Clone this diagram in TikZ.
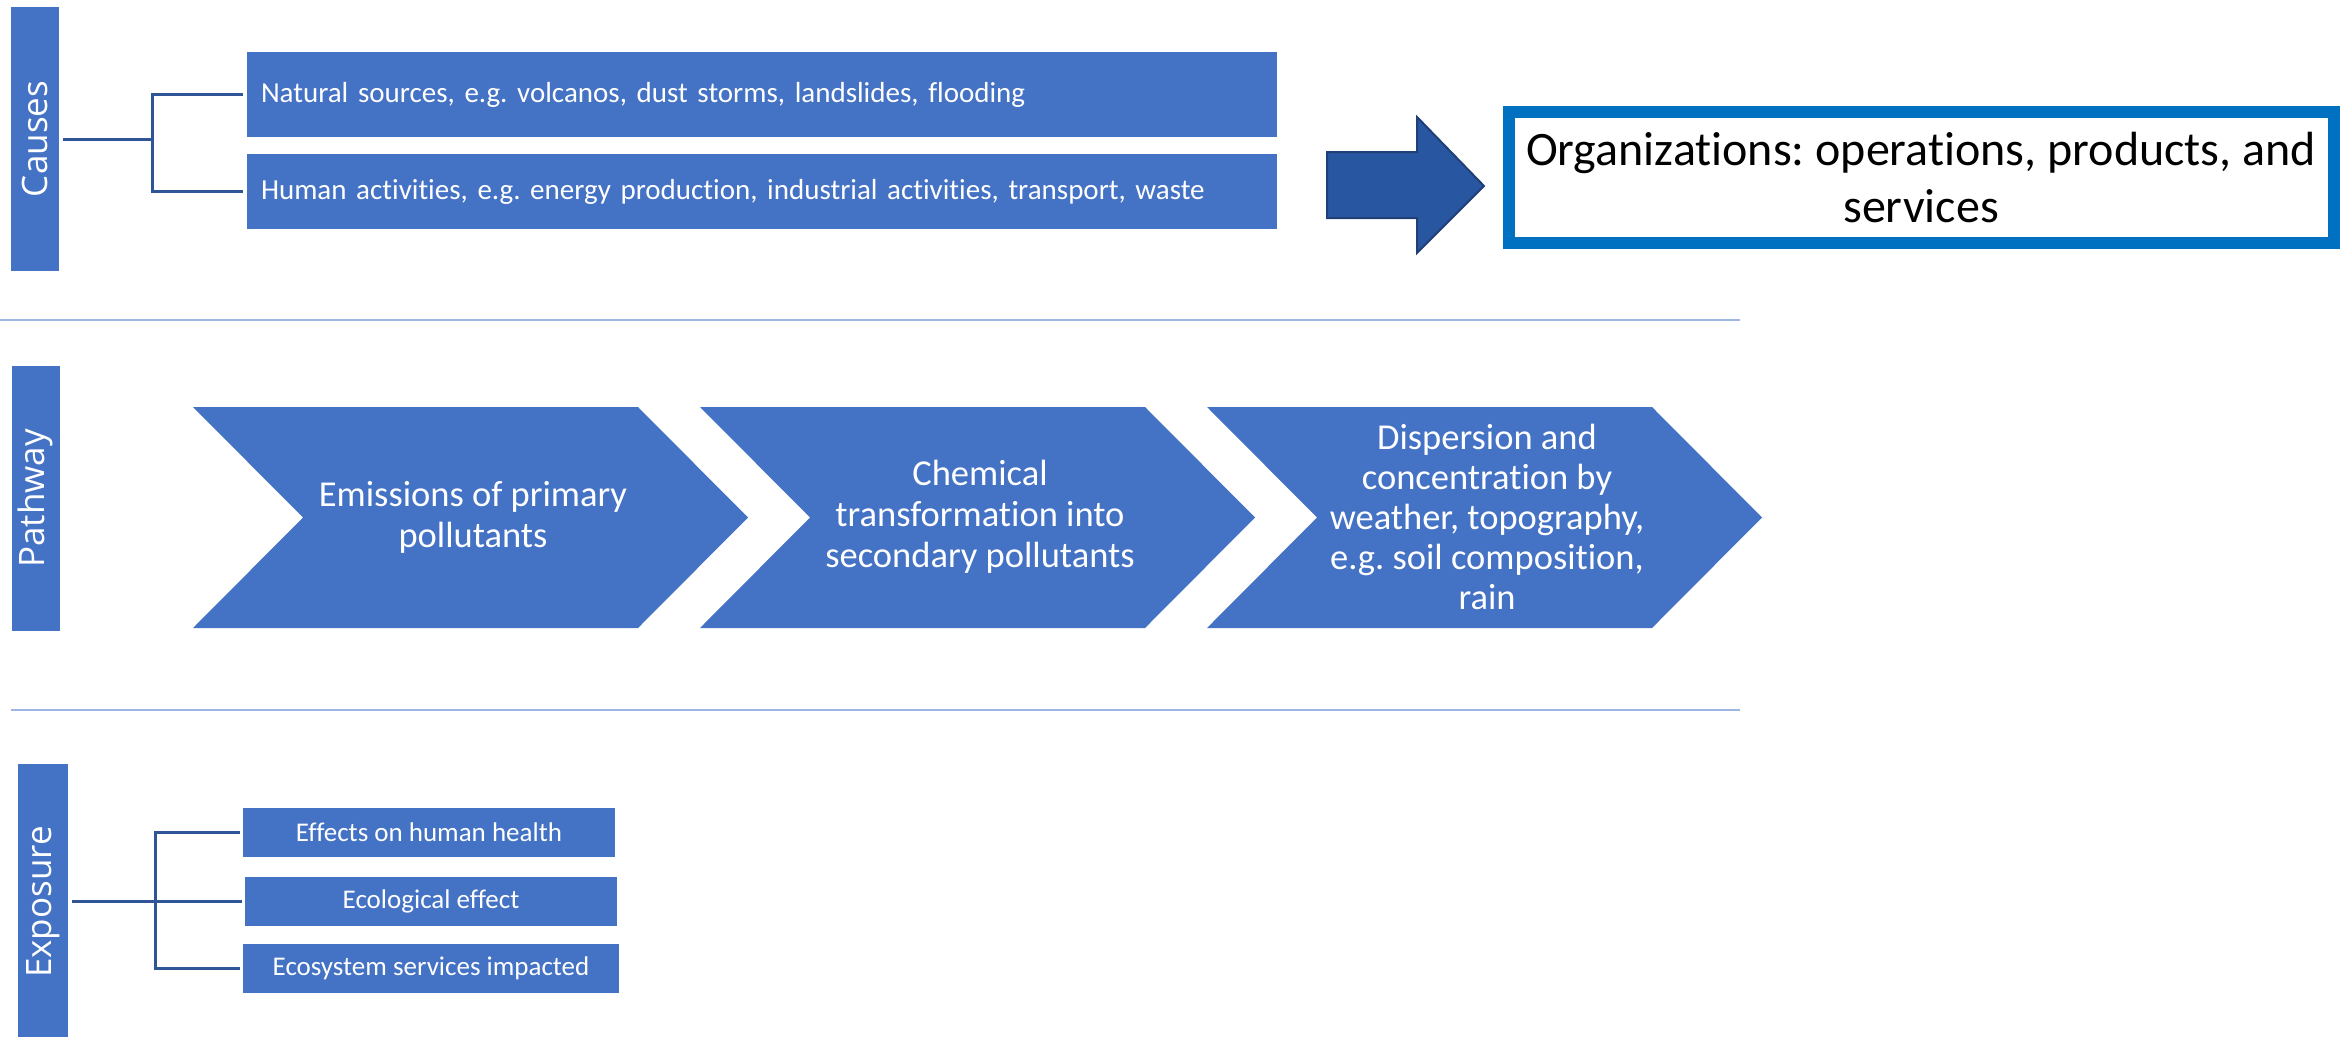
\documentclass[tikz,border=0pt]{standalone}
\usepackage{fontspec}
\setmainfont{Carlito}[Ligatures=NoCommon]
\newfontfamily\barfont{Open Sans}
\usetikzlibrary{positioning}
\frenchspacing

\definecolor{boxblue}{HTML}{4472C4}
\definecolor{linkblue}{HTML}{2F5597}
\definecolor{arrowblue}{HTML}{2856A0}
\definecolor{arrowedge}{HTML}{1F3F77}
\definecolor{orgblue}{HTML}{0070C0}
\definecolor{rulecolor}{HTML}{9DB6E4}

\tikzset{
  bar/.style={fill=boxblue, text=white, inner sep=0pt, minimum width=48,
    font=\barfont\fontsize{35}{40}\selectfont},
  item/.style={fill=boxblue, text=white, inner sep=0pt,
    font=\fontsize{29}{34}\selectfont},
  effect/.style={fill=boxblue, text=white, inner sep=0pt, minimum height=49,
    font=\fontsize{27}{32}\selectfont},
  steptext/.style={text=white, align=center,
    font=\fontsize{36.5}{41}\selectfont},
  link/.style={draw=linkblue, line width=3},
  sep/.style={draw=rulecolor, line width=2.5},
}

\begin{document}
\begin{tikzpicture}[x=1pt, y=-1pt]

\useasboundingbox (0,0) rectangle (2341,1036);

% Causes
\node [bar, minimum height=264] (causes) at (34.5,139) {\rotatebox{90}{Causes}};

\node [item, minimum width=1030, minimum height=85, text width=1002, align=left] (natural) at (762,94.5)
  {Natural sources, e.g. volcanos, dust storms, landslides, flooding};
\node [item, minimum width=1030, minimum height=75, text width=1002, align=left] (human) at (762,191.5)
  {Human activities, e.g. energy production, industrial activities, transport, waste};

\coordinate (cfork) at (152,139);
\draw [link] ([xshift=4]causes.east) -- (cfork);
\draw [link] ([xshift=-4]natural.west) -| (cfork) |- ([xshift=-4]human.west);

\draw [fill=arrowblue, draw=arrowedge, line width=2] (1327,152) -- (1417,152) -- (1417,117) -- (1484,186)
  -- (1417,253) -- (1417,218) -- (1327,218) -- cycle;

\node [draw=orgblue, line width=12, fill=white, minimum width=825, minimum height=131, align=center,
  font=\fontsize{48}{57}\selectfont] (org) at (1921,177.5)
  {Organizations: operations, products, and\\services};

\draw [sep] (0,320) -- (1740,320);

% Pathway
\node [bar, minimum height=265] (pathway) at (35.5,498.5) {\rotatebox{90}{Pathway}};

\draw [fill=boxblue, draw=none] (193,407) -- (638,407) -- (748,517.5) -- (638,628) -- (193,628) -- (303,517.5) -- cycle;
\node [steptext] (emission) at (473,517) {Emissions of primary\\pollutants};

\draw [fill=boxblue, draw=none] (700,407) -- (1145,407) -- (1255,517.5) -- (1145,628) -- (700,628) -- (810,517.5) -- cycle;
\node [steptext] (chemical) at (980,517) {Chemical\\transformation into\\secondary pollutants};

\draw [fill=boxblue, draw=none] (1207,407) -- (1652,407) -- (1762,517.5) -- (1652,628) -- (1207,628) -- (1317,517.5) -- cycle;
\node [steptext, font=\fontsize{36.5}{40}\selectfont] (dispersion) at (1487,517)
  {Dispersion and\\concentration by\\weather, topography,\\e.g. soil composition,\\rain};

\draw [sep] (11,710) -- (1740,710);

% Exposure
\node [bar, minimum width=50, minimum height=276] (exposure) at (43,902) {\rotatebox{90}{Exposure}};

\node [effect, minimum width=372] (health) at (429,832.5) {Effects on human health};
\node [effect, minimum width=372] (ecological) at (431,901.5) {Ecological effect};
\node [effect, minimum width=376] (impacted) at (431,968.5) {Ecosystem services impacted};

\coordinate (efork) at (155,901.5);
\draw [link] ([xshift=4]exposure.east |- ecological.west) -- ([xshift=-3]ecological.west);
\draw [link] ([xshift=-3]health.west) -| (efork) |- ([xshift=-3]impacted.west);

\end{tikzpicture}
\end{document}
